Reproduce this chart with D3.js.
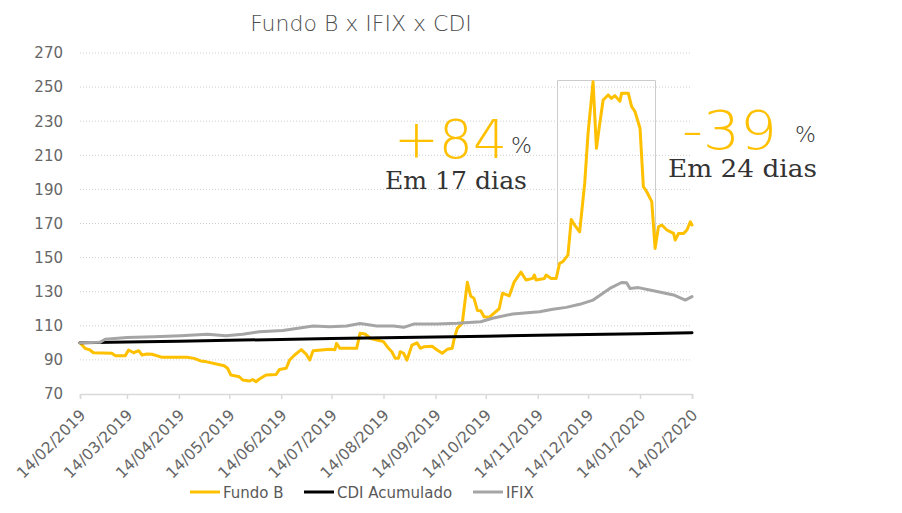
<!DOCTYPE html>
<html>
<head>
<meta charset="utf-8">
<script src="https://cdn.jsdelivr.net/npm/d3@7"></script>
<style>
  html, body { margin: 0; padding: 0; background: #fff; }
  svg { display: block; }
</style>
</head>
<body>
<svg id="chart" width="902" height="513"></svg>
<script>
// ---------- DATA ----------
const fundoDates = ["2019-02-14","2019-02-17","2019-02-20","2019-02-22","2019-03-05","2019-03-07","2019-03-13","2019-03-15","2019-03-18","2019-03-21","2019-03-23","2019-03-26","2019-03-29","2019-04-04","2019-04-19","2019-04-23","2019-04-27","2019-04-30","2019-05-07","2019-05-11","2019-05-13","2019-05-15","2019-05-20","2019-05-22","2019-05-26","2019-05-28","2019-05-30","2019-06-01","2019-06-05","2019-06-11","2019-06-13","2019-06-17","2019-06-19","2019-06-22","2019-06-26","2019-06-29","2019-07-01","2019-07-03","2019-07-13","2019-07-16","2019-07-17","2019-07-19","2019-07-29","2019-07-31","2019-08-03","2019-08-06","2019-08-10","2019-08-14","2019-08-17","2019-08-19","2019-08-21","2019-08-23","2019-08-24","2019-08-26","2019-08-28","2019-08-31","2019-09-03","2019-09-05","2019-09-07","2019-09-12","2019-09-15","2019-09-18","2019-09-21","2019-09-24","2019-09-25","2019-09-27","2019-09-30","2019-10-03","2019-10-05","2019-10-07","2019-10-09","2019-10-11","2019-10-13","2019-10-16","2019-10-22","2019-10-24","2019-10-28","2019-10-31","2019-11-04","2019-11-07","2019-11-11","2019-11-12","2019-11-13","2019-11-18","2019-11-19","2019-11-22","2019-11-25","2019-11-27","2019-11-29","2019-12-02","2019-12-04","2019-12-06","2019-12-09","2019-12-12","2019-12-14","2019-12-17","2019-12-19","2019-12-21","2019-12-23","2019-12-26","2019-12-28","2019-12-30","2020-01-02","2020-01-03","2020-01-07","2020-01-09","2020-01-11","2020-01-14","2020-01-16","2020-01-18","2020-01-21","2020-01-23","2020-01-25","2020-01-27","2020-01-30","2020-02-03","2020-02-04","2020-02-06","2020-02-09","2020-02-11","2020-02-13","2020-02-14"];
const fundoValues = [100,96.8,95.8,94.2,93.9,92.5,92.5,95.8,94.2,95.4,92.9,93.5,93.3,91.5,91.5,90.9,89.4,89,87.4,86.6,85.1,81.1,80.1,78.2,77.6,78.5,77.2,78.8,81.1,81.5,84.4,85.1,89.9,92.9,96,93.2,89.9,95.4,96.2,95.9,99.7,96.8,96.8,105.6,105.2,102.7,101.7,100.7,96.8,94.8,90.9,91,94.8,93.9,89.9,98.7,100,96.8,97.7,98,95.8,93.9,96.2,96.8,101.7,108.5,111.5,135.5,127.5,126.1,119,118.8,115.3,115,120,129.1,127.5,135.8,141.5,136.9,137.8,139.8,136.9,137.8,139.8,137.8,137.8,146.6,147.6,151.5,172.4,169.1,165.1,193.5,222.9,253.2,214.1,228.8,242.4,245.4,243.4,245,241.7,246.4,246.4,238.6,235.6,225.9,191.6,188.6,182.8,155.4,168.1,169.1,166.2,164.2,160.3,164.2,164.2,166.2,171,169.1];

const cdiDates = ["2019-02-14","2019-03-14","2019-04-14","2019-05-14","2019-06-14","2019-07-14","2019-08-14","2019-09-14","2019-10-14","2019-11-14","2019-12-14","2020-01-14","2020-02-14"];
const cdiValues = [100,100.5,101,101.5,102,102.5,103,103.4,103.9,104.4,104.9,105.4,105.9];

const ifixDates = ["2019-02-14","2019-02-26","2019-03-01","2019-03-14","2019-03-30","2019-04-15","2019-05-01","2019-05-12","2019-05-22","2019-06-01","2019-06-15","2019-06-27","2019-07-03","2019-07-13","2019-07-23","2019-07-31","2019-08-10","2019-08-20","2019-08-26","2019-09-01","2019-09-15","2019-09-27","2019-10-11","2019-10-18","2019-10-30","2019-11-15","2019-11-23","2019-12-01","2019-12-09","2019-12-17","2019-12-27","2020-01-03","2020-01-06","2020-01-08","2020-01-13","2020-01-22","2020-02-03","2020-02-10","2020-02-14"];
const ifixValues = [100,100.3,102.1,103.2,103.6,104.2,105,104.2,105,106.5,107.2,109,109.9,109.5,109.9,111.3,109.9,109.9,109.1,111,111,111.5,112.4,114.4,116.9,118.3,119.7,120.8,122.6,125.1,131.9,135.4,135.2,131.9,132.4,130.6,128.1,125.1,127.1];

const xTickDates = ["2019-02-14","2019-03-14","2019-04-14","2019-05-14","2019-06-14","2019-07-14","2019-08-14","2019-09-14","2019-10-14","2019-11-14","2019-12-14","2020-01-14","2020-02-14"];
const yTickValues = [70,90,110,130,150,170,190,210,230,250,270];

const seriesNames = ["Fundo B","CDI Acumulado","IFIX"];
const seriesColors = ["#FFC000","#000000","#A5A5A5"];

const chartTitle = "Fundo B x IFIX x CDI";

// ---------- SETUP ----------
const parse = d3.timeParse("%Y-%m-%d");
const fmt = d3.timeFormat("%d/%m/%Y");
const svg = d3.select("#chart");
const sans = "'DejaVu Sans', sans-serif";
const serif = "'DejaVu Serif', serif";

const x = d3.scaleTime()
  .domain([parse("2019-02-14"), parse("2020-02-14")])
  .range([80, 692]);
const y = d3.scaleLinear().domain([70, 270]).range([394, 53]);

const labelColor = "#595959";

// Title
svg.append("text")
  .attr("x", 361).attr("y", 31)
  .attr("text-anchor", "middle")
  .attr("font-family", sans)
  .attr("font-weight", 200)
  .attr("font-size", 22)
  .attr("fill", "#4d4d4d")
  .text(chartTitle);

// Gridlines
svg.append("g").selectAll("line")
  .data(yTickValues.filter(v => v > 70))
  .join("line")
  .attr("x1", 80).attr("x2", 692)
  .attr("y1", d => y(d)).attr("y2", d => y(d))
  .attr("stroke", "#cfcfcf")
  .attr("stroke-width", 1)
  .attr("stroke-dasharray", "1,2");

// Y axis labels
const yAxis = d3.axisLeft(y).tickValues(yTickValues).tickSize(0).tickPadding(17);
const gy = svg.append("g").attr("transform", "translate(80,0)").call(yAxis);
gy.select(".domain").remove();
gy.selectAll("text")
  .attr("font-family", sans)
  .attr("font-size", 15)
  .attr("fill", "#666");

// X axis
const xTicks = xTickDates.map(parse);
const xAxis = d3.axisBottom(x).tickValues(xTicks).tickSize(5).tickFormat(fmt);
const gx = svg.append("g").attr("transform", "translate(0,394)").call(xAxis);
gx.select(".domain").attr("stroke", "#d9d9d9").attr("stroke-width", 1.5);
gx.selectAll(".tick line").attr("stroke", "#d9d9d9").attr("stroke-width", 1.5);
gx.selectAll("text")
  .attr("font-family", sans)
  .attr("font-size", 15.5)
  .attr("fill", "#666")
  .attr("text-anchor", "end")
  .attr("dy", null)
  .attr("y", null)
  .attr("transform", "translate(6,22) rotate(-45)");

// Lines
const line = d3.line().x(d => x(d[0])).y(d => y(d[1]));
const fundoData = fundoDates.map((d, i) => [parse(d), fundoValues[i]]);
const cdiData = cdiDates.map((d, i) => [parse(d), cdiValues[i]]);
const ifixData = ifixDates.map((d, i) => [parse(d), ifixValues[i]]);

// highlight box
svg.append("path")
  .attr("d", "M557.5,265V80.5H655.5V250")
  .attr("fill", "none")
  .attr("stroke", "#cccccc")
  .attr("stroke-width", 1);

[fundoData, cdiData, ifixData].forEach((data, i) => {
  svg.append("path")
    .datum(data)
    .attr("d", line)
    .attr("fill", "none")
    .attr("stroke", seriesColors[i])
    .attr("stroke-width", 3)
    .attr("stroke-linejoin", "round")
    .attr("stroke-linecap", "round");
});

// Annotations
const ann = svg.append("g");
ann.append("text").attr("x", 394).attr("y", 158)
  .attr("font-family", sans).attr("font-weight", 200)
  .attr("font-size", 54).attr("fill", "#FFC000")
  .attr("textLength", 113).attr("lengthAdjust", "spacingAndGlyphs").text("+84");
ann.append("text").attr("x", 511).attr("y", 153)
  .attr("font-family", sans).attr("font-weight", 200)
  .attr("font-size", 22).attr("fill", "#333").text("%");
ann.append("text").attr("x", 385).attr("y", 189)
  .attr("font-family", serif)
  .attr("font-size", 25).attr("fill", "#333")
  .attr("textLength", 142).attr("lengthAdjust", "spacingAndGlyphs").text("Em 17 dias");

ann.append("text").attr("x", 682).attr("y", 149)
  .attr("font-family", sans).attr("font-weight", 200)
  .attr("font-size", 54).attr("fill", "#FFC000")
  .attr("textLength", 95).attr("lengthAdjust", "spacingAndGlyphs").text("-39");
ann.append("text").attr("x", 795).attr("y", 142)
  .attr("font-family", sans).attr("font-weight", 200)
  .attr("font-size", 22).attr("fill", "#333").text("%");
ann.append("text").attr("x", 668).attr("y", 177)
  .attr("font-family", serif)
  .attr("font-size", 25).attr("fill", "#333")
  .attr("textLength", 149).attr("lengthAdjust", "spacingAndGlyphs").text("Em 24 dias");

// Legend
const legendX = [190, 304, 473];
const lg = svg.append("g");
seriesNames.forEach((name, i) => {
  lg.append("line")
    .attr("x1", legendX[i]).attr("x2", legendX[i] + 30)
    .attr("y1", 492).attr("y2", 492)
    .attr("stroke", seriesColors[i]).attr("stroke-width", 3);
  lg.append("text")
    .attr("x", legendX[i] + 33).attr("y", 497.5)
    .attr("font-family", sans)
    .attr("font-size", 15)
    .attr("fill", labelColor)
    .text(name);
});
</script>
</body>
</html>
